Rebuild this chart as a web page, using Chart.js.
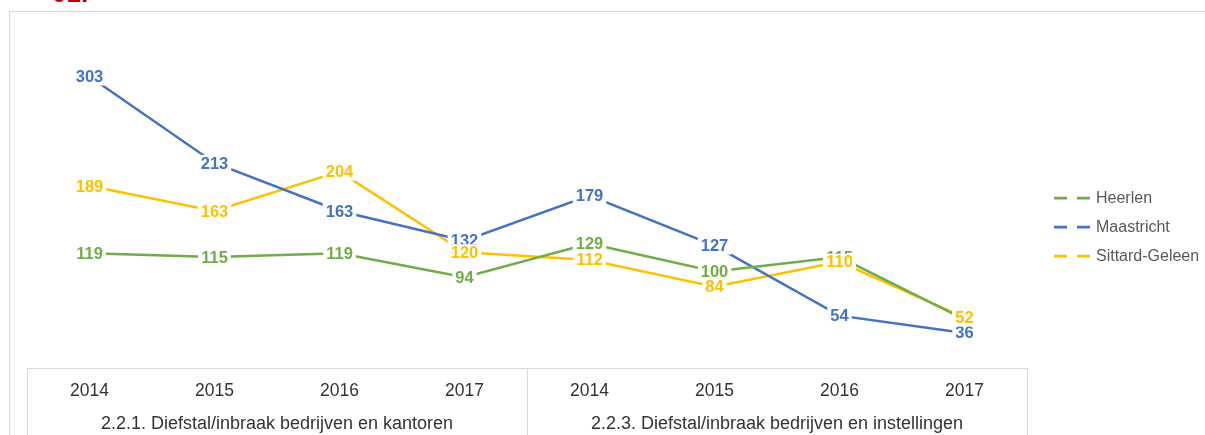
<!DOCTYPE html>
<html>
<head>
<meta charset="utf-8">
<script src="https://cdn.jsdelivr.net/npm/chart.js@4.4.1/dist/chart.umd.min.js"></script>
<style>
  html, body { margin: 0; padding: 0; background: #fff; overflow: hidden; }
  #wrap { position: relative; width: 1205px; height: 435px; }
  #num { position: absolute; left: 52px; top: -20px; font: bold 26px "Liberation Sans", Arial, sans-serif; line-height: 26px; color: #c00000; }
  canvas { position: absolute; left: 0; top: 0; }
</style>
</head>
<body>
<div id="wrap">
  <canvas id="c" width="1205" height="435"></canvas>
  <div id="num">01.</div>
</div>
<script>
// Years along the axis, grouped into two offence categories
const years = ['2014', '2015', '2016', '2017', '2014', '2015', '2016', '2017'];
const groups = ['2.2.1. Diefstal/inbraak bedrijven en kantoren', '2.2.3. Diefstal/inbraak bedrijven en instellingen'];

// Registered incidents per municipality
const heerlen     = [119, 115, 119, 94, 129, 100, 115, 50];
const maastricht  = [303, 213, 163, 132, 179, 127, 54, 36];
const sittard     = [189, 163, 204, 120, 112, 84, 110, 52];

const seriesNames = ['Heerlen', 'Maastricht', 'Sittard-Geleen'];
const seriesColors = ['#70AD47', '#4472C4', '#FFC000'];

const FONT = '"Liberation Sans", Arial, sans-serif';

// Value labels with a white backing box, drawn over the lines
const valueLabels = {
  id: 'valueLabels',
  afterDatasetsDraw(chart) {
    const ctx = chart.ctx;
    ctx.save();
    ctx.font = 'bold 16.5px ' + FONT;
    ctx.textAlign = 'center';
    ctx.textBaseline = 'middle';
    chart.data.datasets.forEach((ds, i) => {
      const meta = chart.getDatasetMeta(i);
      meta.data.forEach((pt, j) => {
        const txt = String(ds.data[j]);
        const w = ctx.measureText(txt).width;
        ctx.fillStyle = '#ffffff';
        ctx.fillRect(pt.x - w / 2 - 3, pt.y - 8, w + 6, 17);
        ctx.fillStyle = ds.borderColor;
        ctx.fillText(txt, pt.x, pt.y + 1);
      });
    });
    ctx.restore();
  }
};

// Frame, group separators, group captions and legend
const decorations = {
  id: 'decorations',
  beforeDraw(chart) {
    const ctx = chart.ctx;
    ctx.save();
    ctx.strokeStyle = '#d9d9d9';
    ctx.lineWidth = 1;
    ctx.strokeRect(9.5, 11.5, 1400, 600);
    ctx.restore();
  },
  afterDraw(chart) {
    const ctx = chart.ctx;
    const x = chart.scales.x;
    const base = chart.chartArea.bottom;
    ctx.save();
    ctx.strokeStyle = '#d9d9d9';
    ctx.lineWidth = 1;
    ctx.beginPath();
    ctx.moveTo(x.left, Math.round(base) + 0.5);
    ctx.lineTo(x.right, Math.round(base) + 0.5);
    const mid = x.getPixelForValue(3.5);
    [x.left, mid, x.right].forEach(px => {
      ctx.moveTo(Math.round(px) + 0.5, Math.round(base));
      ctx.lineTo(Math.round(px) + 0.5, 435);
    });
    ctx.stroke();

    ctx.fillStyle = '#333333';
    ctx.font = '18px ' + FONT;
    ctx.textAlign = 'center';
    ctx.textBaseline = 'middle';
    ctx.fillText(groups[0], x.getPixelForValue(1.5), 424);
    ctx.fillText(groups[1], x.getPixelForValue(5.5), 424);

    // legend
    ctx.font = '16px ' + FONT;
    ctx.textAlign = 'left';
    ctx.fillStyle = '#595959';
    seriesNames.forEach((name, i) => {
      const y = 198 + i * 29;
      ctx.strokeStyle = seriesColors[i];
      ctx.lineWidth = 2.75;
      ctx.beginPath();
      ctx.moveTo(1054, y); ctx.lineTo(1067, y);
      ctx.moveTo(1077, y); ctx.lineTo(1090, y);
      ctx.stroke();
      ctx.fillText(name, 1096, y + 1);
    });
    ctx.restore();
  }
};

const makeSet = (label, data, color) => ({
  label, data,
  borderColor: color,
  backgroundColor: color,
  borderWidth: 2.5,
  pointRadius: 0,
  pointHoverRadius: 0,
  tension: 0,
  fill: false
});

new Chart(document.getElementById('c'), {
  type: 'line',
  data: {
    labels: years,
    datasets: [
      makeSet(seriesNames[0], heerlen, seriesColors[0]),
      makeSet(seriesNames[1], maastricht, seriesColors[1]),
      makeSet(seriesNames[2], sittard, seriesColors[2])
    ]
  },
  options: {
    responsive: false,
    animation: false,
    devicePixelRatio: 1,
    layout: { padding: { left: 27, right: 178, top: 31.4, bottom: 0 } },
    plugins: { legend: { display: false }, tooltip: { enabled: false } },
    scales: {
      x: {
        offset: true,
        grid: { display: false, drawTicks: false },
        border: { display: false },
        ticks: { color: '#333333', font: { family: FONT, size: 17.5 }, padding: 13, maxRotation: 0, autoSkip: false },
        afterFit(scale) { scale.height = 67.5; }
      },
      y: {
        display: false,
        min: 0,
        max: 350
      }
    }
  },
  plugins: [decorations, valueLabels]
});
</script>
</body>
</html>
